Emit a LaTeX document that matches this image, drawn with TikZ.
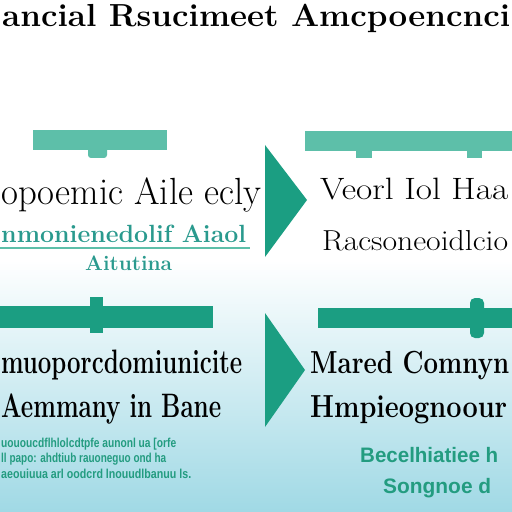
\documentclass[tikz,border=0pt]{standalone}
\usepackage{fontspec}
\newfontfamily\tealsans{Liberation Sans}
\definecolor{barlight}{HTML}{5DBFA9}
\definecolor{bardark}{HTML}{1B9E82}
\definecolor{tealtxt}{HTML}{2A9A8E}
\definecolor{tealgreen}{HTML}{239C80}
\definecolor{bgbottom}{HTML}{A0D9E5}
\definecolor{bgmid}{HTML}{D2EEF3}
\newcommand\fitw[2]{\resizebox{#1}{\height}{#2}}
\tikzset{
  bar/.style={fill=#1, draw=none},
  tri/.style={fill=bardark, draw=none},
  blk/.style={anchor=base west, inner sep=0pt, text=black},
  tl/.style={anchor=base west, inner sep=0pt, text=tealgreen},
}
\begin{document}
\begin{tikzpicture}[x=1bp,y=-1bp]
\useasboundingbox (0,0) rectangle (512,512);
\clip (0,0) rectangle (512,512);
% background
\fill[white] (0,0) rectangle (512,262);
\shade[top color=white, middle color=bgmid, bottom color=bgbottom] (0,260) rectangle (512,512);

% title
\node[blk, font=\fontsize{32}{34}\selectfont\bfseries] (title) at (2,27) {\fitw{508bp}{ancial Rsucimeet Amcpoencnci}};

% row 1 left
\fill[bar=barlight] (33,130) rectangle (167,150);
\fill[barlight, rounded corners=3pt] (88,145) rectangle (107,158);
\node[blk, font=\fontsize{38}{40}\selectfont] (r1a) at (1,205) {\fitw{260bp}{opoemic Aile ecly}};
\node[blk, text=tealtxt, font=\fontsize{25}{27}\selectfont\bfseries] (r1b) at (1,242) {\fitw{245bp}{nmonienedolif Aiaol}};
\draw[barlight, line width=2bp] (0,248) -- (250,248);
\node[blk, text=tealtxt, font=\fontsize{21}{23}\selectfont\bfseries] (r1c) at (85,270) {\fitw{87bp}{Aitutina}};

% arrow 1
\fill[tri] (265,145) -- (307,200) -- (265,257) -- cycle;

% row 1 right
\fill[bar=barlight] (305,131) rectangle (512,151);
\fill[barlight] (356,148) rectangle (372,158);
\fill[barlight] (467,148) rectangle (482,158);
\node[blk, font=\fontsize{31}{33}\selectfont] (r1d) at (320,200) {\fitw{188bp}{Veorl Iol Haa}};
\node[blk, font=\fontsize{29}{31}\selectfont] (r1e) at (322,250) {\fitw{186bp}{Racsoneoidlcio}};

% row 2 left
\fill[bar=bardark] (0,306) rectangle (213,328);
\fill[bardark] (90,297) rectangle (103,333);
\node[blk, font=\fontsize{34}{36}\selectfont\bfseries] (r2a) at (1,373) {\fitw{241bp}{muoporcdomiunicite}};
\node[blk, font=\fontsize{34}{36}\selectfont\bfseries] (r2b) at (1,417) {\fitw{220bp}{Aemmany in Bane}};
\node[tl, font=\tealsans\bfseries\fontsize{13}{14}\selectfont] (s1) at (1,447) {\fitw{175bp}{uououcdflhlolcdtpfe aunonl ua [orfe}};
\node[tl, font=\tealsans\bfseries\fontsize{13}{14}\selectfont] (s2) at (1,462) {\fitw{165bp}{ll papo: ahdtiub rauoneguo ond ha}};
\node[tl, font=\tealsans\bfseries\fontsize{13}{14}\selectfont] (s3) at (1,478) {\fitw{190bp}{aeouiuua arl oodcrd lnouudlbanuu ls.}};

% arrow 2
\fill[tri] (265,313) -- (305,370) -- (265,427) -- cycle;

% row 2 right
\fill[bar=bardark] (318,308) rectangle (512,328);
\fill[bardark, rounded corners=5pt] (470,298) rectangle (484,338);
\node[blk, font=\fontsize{32}{34}\selectfont\bfseries] (r2c) at (310,373) {\fitw{199bp}{Mared Comnyn}};
\node[blk, font=\fontsize{32}{34}\selectfont\bfseries] (r2d) at (310,417) {\fitw{197bp}{Hmpieognoour}};
\node[tl, font=\tealsans\bfseries\fontsize{21}{23}\selectfont] (r2e) at (360,462) {\fitw{138bp}{Becelhiatiee h}};
\node[tl, font=\tealsans\bfseries\fontsize{21}{23}\selectfont] (r2f) at (383,493) {\fitw{108bp}{Songnoe d}};
\end{tikzpicture}
\end{document}
